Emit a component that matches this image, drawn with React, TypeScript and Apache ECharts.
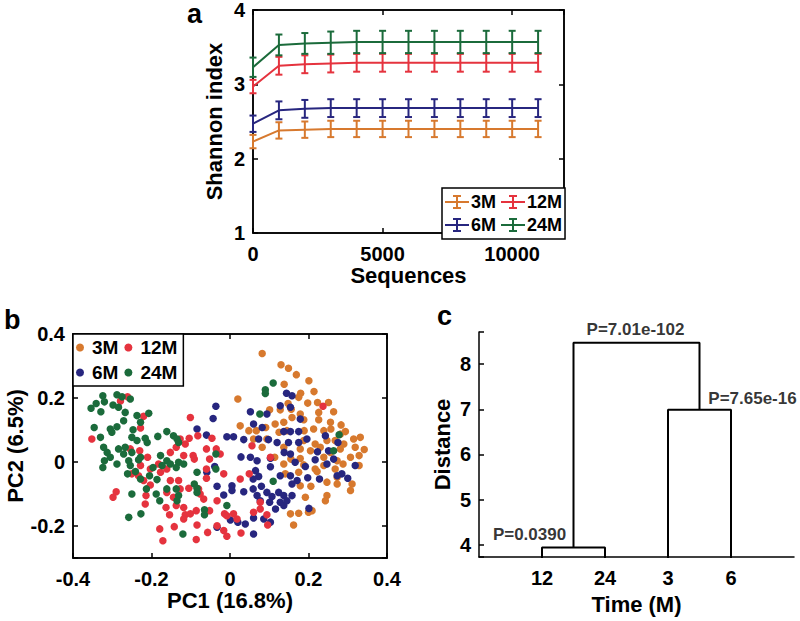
import React, { useEffect, useRef } from "react";
import * as echarts from "echarts";

// ---------- Panel a: rarefaction (Shannon index) ----------
const seqX = [0, 1000, 2000, 3000, 4000, 5000, 6000, 7000, 8000, 9000, 10000, 11000];
const shannon3M = [2.23, 2.38, 2.39, 2.40, 2.40, 2.40, 2.40, 2.40, 2.40, 2.40, 2.40, 2.40];
const err3M = [0.09, 0.11, 0.11, 0.11, 0.11, 0.11, 0.11, 0.11, 0.11, 0.11, 0.11, 0.11];
const shannon6M = [2.47, 2.65, 2.67, 2.68, 2.68, 2.68, 2.68, 2.68, 2.68, 2.68, 2.68, 2.68];
const err6M = [0.11, 0.12, 0.12, 0.12, 0.12, 0.12, 0.12, 0.12, 0.12, 0.12, 0.12, 0.12];
const shannon12M = [2.97, 3.25, 3.27, 3.28, 3.29, 3.29, 3.29, 3.29, 3.29, 3.29, 3.29, 3.29];
const err12M = [0.09, 0.12, 0.12, 0.12, 0.12, 0.12, 0.12, 0.12, 0.12, 0.12, 0.12, 0.12];
const shannon24M = [3.23, 3.53, 3.55, 3.56, 3.57, 3.57, 3.57, 3.57, 3.57, 3.57, 3.57, 3.57];
const err24M = [0.13, 0.14, 0.14, 0.15, 0.15, 0.15, 0.15, 0.15, 0.15, 0.15, 0.15, 0.15];

// ---------- Panel b: PCA scores [PC1, PC2] ----------
const pc3M = [
  [0.082, 0.339], [0.13, 0.304], [0.149, 0.293], [0.169, 0.273], [0.201, 0.254], [0.138, 0.243],
  [0.18, 0.215], [0.214, 0.22], [0.175, 0.202], [0.198, 0.184], [0.223, 0.186], [0.148, 0.183],
  [0.251, 0.186], [0.101, 0.163], [0.128, 0.163], [0.156, 0.165], [0.179, 0.15], [0.226, 0.155],
  [0.264, 0.157], [0.02, 0.197], [0.137, 0.124], [0.158, 0.139], [0.188, 0.132], [0.226, 0.132],
  [0.256, 0.124], [0.283, 0.116], [0.026, 0.113], [0.048, 0.098], [0.067, 0.098], [0.091, 0.108],
  [0.115, 0.119], [0.189, 0.098], [0.213, 0.103], [0.239, 0.098], [0.257, 0.103], [0.281, 0.087],
  [0.294, 0.095], [0.06, 0.072], [0.094, 0.072], [0.125, 0.093], [0.145, 0.098], [0.188, 0.067],
  [0.217, 0.056], [0.247, 0.067], [0.268, 0.067], [0.29, 0.056], [0.315, 0.072], [0.332, 0.077],
  [0.082, 0.046], [0.137, 0.046], [0.179, 0.041], [0.205, 0.035], [0.23, 0.046], [0.256, 0.03],
  [0.281, 0.041], [0.319, 0.046], [0.342, 0.039], [0.114, 0.015], [0.155, 0.009], [0.179, 0.011],
  [0.239, 0.015], [0.273, 0.004], [0.307, 0.015], [0.329, 0.02], [0.137, -0.006], [0.188, -0.009],
  [0.217, -0.022], [0.239, -0.011], [0.268, -0.022], [0.288, -0.006], [0.329, -0.011], [0.141, -0.037],
  [0.175, -0.032], [0.222, -0.03], [0.247, -0.063], [0.273, -0.069], [0.311, -0.069], [0.179, -0.074],
  [0.206, -0.076], [0.273, -0.048], [0.307, -0.089], [0.192, -0.11], [0.247, -0.105], [0.243, -0.121],
  [0.175, -0.16], [0.2, -0.157], [0.209, -0.152], [0.162, -0.197], [0.154, -0.162],
];
const pc6M = [
  [0.144, 0.215], [0.158, 0.207], [-0.036, 0.174], [-0.043, 0.136], [0.052, 0.157], [0.06, 0.119],
  [0.094, 0.15], [0.082, 0.108], [0.128, 0.176], [0.154, 0.171], [0.179, 0.134], [0.137, 0.095],
  [0.154, 0.095], [0.175, 0.095], [-0.084, 0.103], [-0.06, 0.084], [-0.008, 0.079], [0.009, 0.079],
  [0.035, 0.07], [0.073, 0.072], [0.098, 0.07], [0.12, 0.061], [0.149, 0.061], [0.175, 0.061],
  [0.196, 0.072], [0.243, 0.082], [0.223, 0.032], [0.251, 0.035], [0.275, 0.061], [0.028, 0.016],
  [0.052, 0.015], [0.069, 0.004], [0.103, 0.012], [0.138, 0.03], [0.154, 0.025], [0.166, -0.001],
  [0.192, -0.014], [0.217, 0.007], [0.247, -0.006], [0.264, 0.009], [0.319, -0.011], [-0.059, -0.032],
  [-0.039, -0.014], [0.065, -0.027], [0.073, -0.045], [0.059, -0.053], [0.103, -0.015], [0.128, -0.043],
  [0.154, -0.043], [0.171, -0.058], [0.158, -0.069], [0.198, -0.049], [0.228, -0.053], [0.273, -0.043],
  [0.285, -0.037], [0.3, -0.051], [-0.033, -0.076], [0.005, -0.074], [-0.016, -0.103], [0.005, -0.089],
  [0.035, -0.093], [0.059, -0.084], [0.08, -0.076], [0.069, -0.105], [0.094, -0.095], [0.124, -0.095],
  [0.107, -0.108], [0.137, -0.105], [0.158, -0.105], [0.077, -0.121], [0.101, -0.126], [0.128, -0.126],
  [0.116, -0.147], [0.137, -0.136], [0.145, -0.121], [0.201, -0.145], [0.001, -0.181], [0.02, -0.188],
  [0.039, -0.194], [0.06, -0.175], [0.086, -0.178], [0.103, -0.188], [-0.033, -0.204], [0.06, -0.225],
];
const pc12M = [
  [-0.261, 0.204], [-0.279, 0.191], [-0.22, 0.143], [-0.228, 0.106], [-0.352, 0.072], [-0.101, 0.139],
  [-0.104, 0.074], [-0.06, 0.041], [-0.082, 0.082], [-0.046, 0.074], [-0.035, 0.041], [-0.025, 0.025],
  [-0.052, 0.009], [-0.114, 0.056], [-0.127, 0.072], [-0.137, 0.046], [-0.152, 0.03], [-0.118, 0.02],
  [-0.094, 0.02], [-0.091, 0.009], [-0.254, 0.041], [-0.23, 0.035], [-0.21, 0.015], [-0.182, -0.006],
  [-0.161, -0.022], [-0.228, -0.011], [-0.203, -0.022], [-0.25, -0.037], [-0.233, -0.043], [-0.22, -0.058],
  [-0.203, -0.072], [-0.177, -0.032], [-0.152, -0.058], [-0.131, -0.058], [-0.127, -0.084], [-0.105, -0.082],
  [-0.08, -0.084], [-0.076, -0.1], [-0.067, -0.116], [-0.06, -0.022], [-0.06, -0.051], [-0.016, -0.037],
  [0.026, -0.053], [0.056, 0.051], [0.103, 0.015], [0.049, -0.037], [-0.298, -0.11], [-0.29, -0.093],
  [-0.214, -0.105], [-0.216, -0.131], [-0.161, -0.095], [-0.144, -0.11], [-0.163, -0.142], [-0.154, -0.165],
  [-0.137, -0.136], [-0.118, -0.142], [-0.114, -0.165], [-0.101, -0.162], [-0.086, -0.152], [-0.052, -0.152],
  [-0.033, -0.121], [-0.014, -0.162], [-0.008, -0.168], [0.009, -0.162], [0.018, -0.178], [-0.179, -0.209],
  [-0.171, -0.246], [-0.142, -0.202], [-0.118, -0.178], [-0.084, -0.197], [-0.057, -0.22], [-0.086, -0.242],
  [-0.033, -0.199], [-0.016, -0.214], [-0.008, -0.232], [0.028, -0.222], [0.06, -0.157], [0.077, -0.147],
  [0.094, -0.165], [0.096, -0.197], [0.077, -0.126], [0.237, 0.174],
];
const pc24M = [
  [-0.354, 0.168], [-0.341, 0.183], [-0.324, 0.207], [-0.32, 0.188], [-0.288, 0.21], [-0.275, 0.204],
  [-0.254, 0.197], [-0.298, 0.178], [-0.284, 0.171], [-0.329, 0.157], [-0.267, 0.155], [-0.237, 0.145],
  [-0.207, 0.152], [-0.228, 0.124], [-0.271, 0.129], [-0.288, 0.11], [-0.305, 0.103], [-0.247, 0.101],
  [-0.346, 0.108], [-0.33, 0.077], [-0.301, 0.093], [-0.25, 0.077], [-0.237, 0.067], [-0.216, 0.074],
  [-0.211, 0.061], [-0.184, 0.08], [-0.161, 0.095], [-0.144, 0.082], [-0.135, 0.072], [-0.131, 0.061],
  [-0.322, 0.046], [-0.313, 0.03], [-0.284, 0.041], [-0.267, 0.046], [-0.305, 0.015], [-0.271, 0.025],
  [-0.25, 0.03], [-0.228, 0.015], [-0.32, 0.004], [-0.324, -0.017], [-0.288, -0.006], [-0.258, 0.004],
  [-0.254, -0.011], [-0.233, 0.007], [-0.177, 0.02], [-0.161, 0.004], [-0.152, -0.006], [-0.131, -0.001],
  [-0.118, -0.006], [-0.137, -0.017], [-0.196, -0.017], [-0.173, -0.011], [-0.261, -0.037], [-0.241, -0.03],
  [-0.228, -0.053], [-0.205, -0.043], [-0.186, -0.055], [-0.084, -0.032], [-0.036, -0.022], [-0.036, 0.025],
  [-0.213, -0.084], [-0.188, -0.1], [-0.179, -0.121], [-0.161, -0.084], [-0.137, -0.084], [-0.131, -0.105],
  [-0.135, -0.121], [-0.091, -0.069], [-0.084, -0.082], [-0.084, -0.095], [-0.25, -0.1], [-0.258, -0.173],
  [-0.227, -0.162], [-0.12, -0.225], [-0.065, -0.149], [-0.065, -0.165], [0.11, 0.247], [0.09, 0.226],
  [0.09, 0.214], [0.076, 0.15], [0.278, 0.085], [0.264, 0.035], [0.11, -0.06], [-0.008, -0.136],
];

// ---------- Panel c: dendrogram ----------
const leafLabels = ["12", "24", "3", "6"];
// each link: [left x, left base height, right x, right base height, merge height]
const dendroLinks = [
  [1, 0, 2, 0, 3.94],
  [3, 0, 4, 0, 6.99],
  [1.5, 3.94, 3.5, 6.99, 8.47],
];
const linkPValues = ["P=0.0390", "P=7.65e-16", "P=7.01e-102"];

const FONT = '"Liberation Sans", Arial, Helvetica, sans-serif';
const C3 = "#D7792E";
const C6 = "#27267F";
const C12 = "#E5333E";
const C24 = "#1B6B3B";

const groups = [
  { key: "3M", color: C3, mean: shannon3M, err: err3M, pc: pc3M },
  { key: "6M", color: C6, mean: shannon6M, err: err6M, pc: pc6M },
  { key: "12M", color: C12, mean: shannon12M, err: err12M, pc: pc12M },
  { key: "24M", color: C24, mean: shannon24M, err: err24M, pc: pc24M },
];

const tickStyle = { show: true, inside: true, length: 5, lineStyle: { color: "#000", width: 1.5 } };
const labelStyle = { color: "#000", fontSize: 20, fontWeight: "bold", fontFamily: FONT };
const nameStyle = { color: "#000", fontSize: 22, fontWeight: "bold", fontFamily: FONT };
const lineAx = { show: true, onZero: false, lineStyle: { color: "#000", width: 1.5 } };
const errIcon = "path://M0,6H24V8H0Z M11,0H13V14H11Z M8,0H16V2H8Z M8,12H16V14H8Z";

function fmtNum(v: number) {
  const r = Math.round(v * 10) / 10;
  return r === 0 ? "0" : String(r);
}

export default function App() {
  const ref = useRef<HTMLDivElement>(null);
  useEffect(() => {
    if (!ref.current) return;
    const chart = echarts.init(ref.current, undefined, { renderer: "svg" });

    const series: any[] = [];
    groups.forEach((g) => {
      series.push({
        type: "line",
        name: "a:" + g.key,
        xAxisIndex: 0,
        yAxisIndex: 0,
        data: seqX.map((x, i) => [x, g.mean[i]]),
        symbol: "none",
        color: g.color,
        lineStyle: { width: 2, color: g.color },
        z: 3,
      });
      series.push({
        type: "custom",
        name: "aerr:" + g.key,
        xAxisIndex: 0,
        yAxisIndex: 0,
        data: seqX.map((x, i) => [x, g.mean[i] - g.err[i], g.mean[i] + g.err[i]]),
        renderItem: (params: any, api: any) => {
          const x = api.value(0);
          const lo = api.coord([x, api.value(1)]);
          const hi = api.coord([x, api.value(2)]);
          const w = 3.5;
          const st = { stroke: g.color, lineWidth: 2 };
          return {
            type: "group",
            children: [
              { type: "line", shape: { x1: lo[0], y1: lo[1], x2: hi[0], y2: hi[1] }, style: st },
              { type: "line", shape: { x1: lo[0] - w, y1: lo[1], x2: lo[0] + w, y2: lo[1] }, style: st },
              { type: "line", shape: { x1: hi[0] - w, y1: hi[1], x2: hi[0] + w, y2: hi[1] }, style: st },
            ],
          };
        },
        z: 3,
      });
    });
    groups.forEach((g) => {
      series.push({
        type: "scatter",
        name: "b:" + g.key,
        xAxisIndex: 2,
        yAxisIndex: 2,
        data: g.pc,
        symbol: "circle",
        symbolSize: 7.5,
        color: g.color,
        itemStyle: { color: g.color, opacity: 1 },
      });
    });
    dendroLinks.forEach((l, i) => {
      series.push({
        type: "line",
        name: "link" + i,
        xAxisIndex: 4,
        yAxisIndex: 4,
        data: [
          [l[0], l[1]],
          [l[0], l[4]],
          [l[2], l[4]],
          [l[2], l[3]],
        ],
        symbol: "none",
        clip: true,
        lineStyle: { color: "#000", width: 2 },
        color: "#000",
      });
    });
    const pOffsets = [
      [-44, 0],
      [53, 2],
      [-1, 0],
    ];
    series.push({
      type: "scatter",
      name: "pvals",
      xAxisIndex: 4,
      yAxisIndex: 4,
      symbolSize: 0,
      data: dendroLinks.map((l, i) => ({
        value: [(l[0] + l[2]) / 2, l[4]],
        label: {
          show: true,
          position: "top",
          distance: 5,
          offset: pOffsets[i],
          formatter: linkPValues[i],
          color: "#000",
          fontSize: 17,
          fontWeight: "bold",
          fontFamily: FONT,
        },
      })),
    });

    const legendFmt = (n: string) => n.split(":")[1];

    chart.setOption({
      animation: false,
      textStyle: { fontFamily: FONT },
      grid: [
        { left: 253, top: 10, width: 311, height: 223, show: true, borderColor: "#000", borderWidth: 1.5 },
        { left: 73, top: 334, width: 314, height: 224, show: true, borderColor: "#000", borderWidth: 1.5 },
        { left: 479, top: 332, width: 315, height: 225 },
      ],
      xAxis: [
        {
          gridIndex: 0, type: "value", min: 0, max: 12000, interval: 5000, position: "bottom",
          axisLine: lineAx, axisTick: tickStyle, splitLine: { show: false },
          axisLabel: { ...labelStyle, margin: 11, formatter: (v: number) => (v % 5000 === 0 ? String(v) : "") },
          name: "Sequences", nameLocation: "middle", nameGap: 28, nameTextStyle: nameStyle,
        },
        {
          gridIndex: 0, type: "value", min: 0, max: 12000, interval: 5000, position: "top",
          axisLine: lineAx, axisTick: tickStyle, splitLine: { show: false }, axisLabel: { show: false },
        },
        {
          gridIndex: 1, type: "value", min: -0.4, max: 0.4, interval: 0.2, position: "bottom",
          axisLine: lineAx, axisTick: tickStyle, splitLine: { show: false },
          axisLabel: { ...labelStyle, margin: 11, formatter: fmtNum },
          name: "PC1 (16.8%)", nameLocation: "middle", nameGap: 30, nameTextStyle: nameStyle,
        },
        {
          gridIndex: 1, type: "value", min: -0.4, max: 0.4, interval: 0.2, position: "top",
          axisLine: lineAx, axisTick: tickStyle, splitLine: { show: false }, axisLabel: { show: false },
        },
        {
          gridIndex: 2, type: "value", min: 0, max: 5, interval: 1, position: "bottom",
          axisLine: lineAx, axisTick: { show: false }, splitLine: { show: false },
          axisLabel: {
            ...labelStyle, margin: 11,
            formatter: (v: number) => leafLabels[Math.round(v) - 1] ?? "",
          },
          name: "Time (M)", nameLocation: "middle", nameGap: 36, nameTextStyle: nameStyle,
        },
      ],
      yAxis: [
        {
          gridIndex: 0, type: "value", min: 1, max: 4, interval: 1, position: "left",
          axisLine: lineAx, axisTick: tickStyle, splitLine: { show: false },
          axisLabel: { ...labelStyle, margin: 8 },
          name: "Shannon index", nameLocation: "middle", nameGap: 28, nameTextStyle: nameStyle,
        },
        {
          gridIndex: 0, type: "value", min: 1, max: 4, interval: 1, position: "right",
          axisLine: lineAx, axisTick: tickStyle, splitLine: { show: false }, axisLabel: { show: false },
        },
        {
          gridIndex: 1, type: "value", min: -0.3, max: 0.4, minInterval: 0.2, maxInterval: 0.2, splitNumber: 4,
          position: "left", axisLine: lineAx, axisTick: tickStyle, splitLine: { show: false },
          axisLabel: {
            ...labelStyle, margin: 8,
            formatter: (v: number) => (Math.abs(v * 5 - Math.round(v * 5)) < 1e-6 ? fmtNum(v) : ""),
          },
          name: "PC2 (6.5%)", nameLocation: "middle", nameGap: 46, nameTextStyle: nameStyle,
        },
        {
          gridIndex: 1, type: "value", min: -0.3, max: 0.4, minInterval: 0.2, maxInterval: 0.2, splitNumber: 4,
          position: "right", axisLine: lineAx, axisTick: tickStyle, splitLine: { show: false }, axisLabel: { show: false },
        },
        {
          gridIndex: 2, type: "value", min: 3.73, max: 8.71, minInterval: 1, maxInterval: 1, splitNumber: 5,
          position: "left", axisLine: lineAx, axisTick: tickStyle, splitLine: { show: false },
          axisLabel: {
            ...labelStyle, margin: 8,
            formatter: (v: number) => (Math.abs(v - Math.round(v)) < 1e-6 ? String(Math.round(v)) : ""),
          },
          name: "Distance", nameLocation: "middle", nameGap: 26, nameTextStyle: nameStyle,
        },
      ],
      legend: [
        {
          data: ["a:3M", "a:12M", "a:6M", "a:24M"],
          formatter: legendFmt,
          left: 442, top: 188, width: 125, orient: "horizontal",
          icon: errIcon, itemWidth: 24, itemHeight: 14, itemGap: 5,
          padding: [5, 3, 5, 3], borderColor: "#000", borderWidth: 1.5, backgroundColor: "#fff",
          selectedMode: false,
          textStyle: { fontSize: 18, fontWeight: "bold", color: "#000", fontFamily: FONT, lineHeight: 15, padding: [0, 0, 0, -3] },
        },
        {
          data: ["b:3M", "b:12M", "b:6M", "b:24M"],
          formatter: legendFmt,
          left: 73, top: 334, width: 120, orient: "horizontal",
          icon: "circle", itemWidth: 14, itemHeight: 8, itemGap: 6,
          padding: [4, 6, 4, 3], borderColor: "#000", borderWidth: 1.5, backgroundColor: "#fff",
          selectedMode: false,
          textStyle: { fontSize: 19, fontWeight: "bold", color: "#000", fontFamily: FONT, lineHeight: 16 },
        },
      ],
      graphic: [
        { type: "text", left: 187, top: 0, style: { text: "a", font: `bold 27px ${FONT}`, fill: "#000" } },
        { type: "text", left: 4, top: 306, style: { text: "b", font: `bold 27px ${FONT}`, fill: "#000" } },
        { type: "text", left: 437, top: 302, style: { text: "c", font: `bold 27px ${FONT}`, fill: "#000" } },
      ],
      series,
    });
    return () => chart.dispose();
  }, []);
  return (
    <div
      ref={ref}
      style={{ position: "absolute", left: 0, top: 0, width: 800, height: 621, background: "#fff" }}
    />
  );
}
